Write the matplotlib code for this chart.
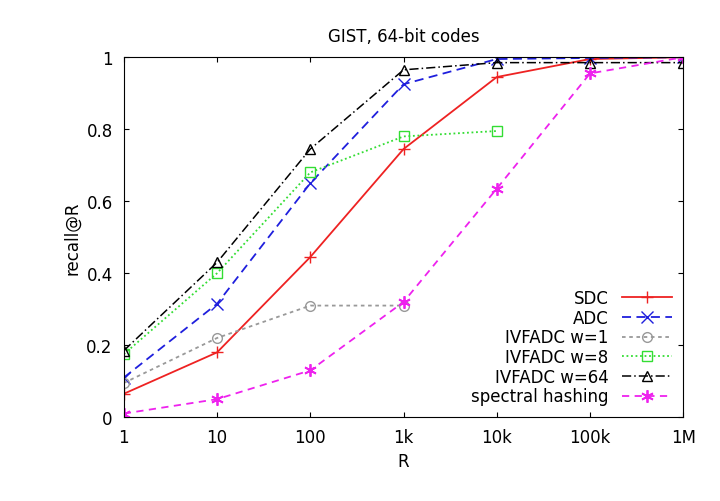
import matplotlib
matplotlib.use("Agg")
import matplotlib.pyplot as plt

R = [1, 10, 100, 1000, 10000, 100000, 1000000]
xticklabels = ["1", "10", "100", "1k", "10k", "100k", "1M"]
sdc = [0.065, 0.18, 0.445, 0.745, 0.945, 0.995, 1.0]
adc = [0.11, 0.315, 0.65, 0.925, 0.995, 0.998, 1.0]
ivf1 = [0.095, 0.22, 0.31, 0.31]
ivf8 = [0.175, 0.40, 0.68, 0.78, 0.795]
ivf64 = [0.185, 0.43, 0.745, 0.965, 0.985, 0.985, 0.985]
spectral = [0.01, 0.05, 0.13, 0.32, 0.635, 0.955, 1.0]

fig = plt.figure(figsize=(7.2, 5.02), dpi=100)
ax = fig.add_axes([0.172, 0.167, 0.777, 0.717])
ax.plot(R, sdc, color="#ee2222", ls="-", marker="+", ms=8, lw=1.3, label="SDC")
ax.plot(R[:len(adc)], adc, color="#1f1fdd", ls=(0, (5, 3)), marker="x", ms=8, lw=1.3, label="ADC")
ax.plot(R[:len(ivf1)], ivf1, color="#999999", ls=(0, (2, 2)), marker="o", ms=7, mfc="none", lw=1.3, label="IVFADC w=1")
ax.plot(R[:len(ivf8)], ivf8, color="#33dd33", ls=(0, (1, 1.5)), marker="s", ms=7, mfc="none", lw=1.3, label="IVFADC w=8")
ax.plot(R[:len(ivf64)], ivf64, color="black", ls=(0, (6, 2, 1, 2)), marker="^", ms=7, mfc="none", lw=1.1, label="IVFADC w=64")
ax.plot(R[:len(spectral)], spectral, color="#ee22ee", ls=(0, (4, 3)), marker=(6, 2, 0), ms=9, mew=1.3, lw=1.3, label="spectral hashing")
ax.set_xscale("log")
ax.set_xlim(1, 1e6)
ax.set_ylim(0, 1)
ax.set_xticks(R)
ax.set_xticklabels(xticklabels)
ax.minorticks_off()
ax.set_yticks([0, 0.2, 0.4, 0.6, 0.8, 1])
ax.set_yticklabels(["0", "0.2", "0.4", "0.6", "0.8", "1"])
ax.tick_params(direction="in", labelsize=12, top=True, right=True, pad=8)
ax.set_xlabel("R", fontsize=12)
ax.set_ylabel("recall@R", fontsize=12)
ax.set_title("GIST, 64-bit codes", fontsize=12, pad=12)
ax.legend(loc="lower right", frameon=False, markerfirst=False, fontsize=12,
          handlelength=3, labelspacing=0.1, borderaxespad=0.3)
fig.savefig("out.png", dpi=100)
